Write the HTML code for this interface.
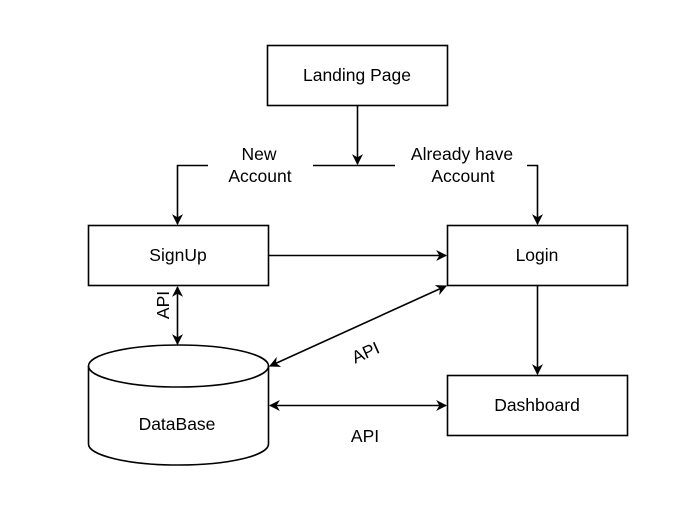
<!DOCTYPE html>
<html><head><style>body{margin:0;background:#fff}svg{display:block}</style></head><body>
<svg width="693" height="508" viewBox="0 0 693 508" xmlns="http://www.w3.org/2000/svg" font-family="Liberation Sans, Arial, sans-serif" font-size="17.5" fill="none" stroke="#000">
<defs><marker id="a" viewBox="0 0 10 10" refX="9" refY="5" markerWidth="11" markerHeight="11" orient="auto-start-reverse" markerUnits="userSpaceOnUse"><path d="M0,0 L10,5 L0,10 L3,5z" fill="#000" stroke="none"/></marker></defs>
<g stroke-width="1.6">
<rect x="267.5" y="45.5" width="180" height="60"/>
<rect x="88.5" y="225.5" width="180" height="60"/>
<rect x="447.5" y="225.5" width="180" height="60"/>
<rect x="447.5" y="375.5" width="180" height="60"/>
<path d="M88.5,366 A90,21 0 0 1 268.5,366 V444 A90,21 0 0 1 88.5,444 Z"/>
<path d="M88.5,366 A90,21 0 0 0 268.5,366"/>
<path d="M357.5,105 V164" marker-end="url(#a)"/>
<path d="M313,165.5 H395"/>
<path d="M208,165.5 H177.5 V224" marker-end="url(#a)"/>
<path d="M527,165.5 H537.5 V224" marker-end="url(#a)"/>
<path d="M268,255.5 H446" marker-end="url(#a)"/>
<path d="M537.5,285 V374" marker-end="url(#a)"/>
<path d="M177.5,287 V344" marker-start="url(#a)" marker-end="url(#a)"/>
<path d="M270,366 L446,286" marker-start="url(#a)" marker-end="url(#a)"/>
<path d="M270,405.5 H446" marker-start="url(#a)" marker-end="url(#a)"/>
</g>
<g fill="#000" stroke="none" text-anchor="middle">
<text x="357" y="81">Landing Page</text>
<text x="178" y="261">SignUp</text>
<text x="537" y="261">Login</text>
<text x="537" y="411">Dashboard</text>
<text x="177" y="430">DataBase</text>
<text x="259" y="160">New</text><text x="260" y="182">Account</text>
<text x="462" y="160">Already have</text><text x="463" y="182">Account</text>
<text x="365" y="442">API</text>
<text transform="translate(368,358) rotate(-24)">API</text>
<text transform="translate(169,305) rotate(-90)">API</text>
</g>
</svg>
</body></html>
